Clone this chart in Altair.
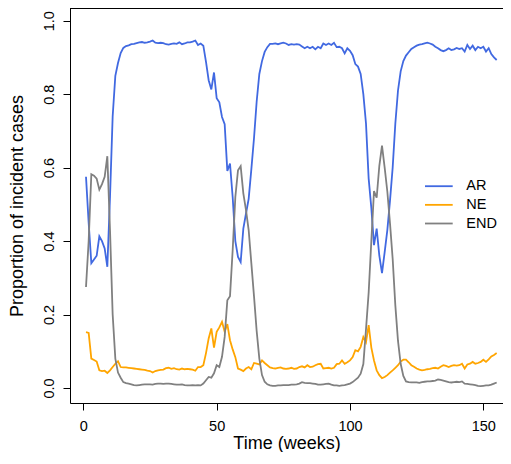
import altair as alt
import pandas as pd

weeks = list(range(1, 156))
series_names = ["AR", "NE", "END"]
series_colors = ["#4169E1", "#FFA500", "#808080"]

ar = [
    0.575, 0.45, 0.34, 0.35, 0.36, 0.413, 0.40, 0.38, 0.33, 0.52,
    0.74, 0.85, 0.885, 0.912, 0.926, 0.931, 0.933, 0.936, 0.937, 0.939,
    0.941, 0.942, 0.940, 0.941, 0.943, 0.946, 0.940, 0.939, 0.940, 0.939,
    0.936, 0.935, 0.937, 0.938, 0.937, 0.941, 0.936, 0.938, 0.941, 0.941,
    0.943, 0.946, 0.934, 0.938, 0.932, 0.888, 0.838, 0.813, 0.859, 0.789,
    0.778, 0.738, 0.718, 0.591, 0.611, 0.52, 0.40, 0.357, 0.343, 0.434,
    0.475, 0.515, 0.595, 0.68, 0.78, 0.855, 0.89, 0.915, 0.928, 0.937,
    0.937, 0.938, 0.936, 0.938, 0.940, 0.938, 0.934, 0.936, 0.935, 0.936,
    0.935, 0.930, 0.925, 0.929, 0.925, 0.929, 0.922, 0.929, 0.925, 0.938,
    0.934, 0.938, 0.934, 0.940, 0.928, 0.929, 0.925, 0.911, 0.925, 0.918,
    0.906, 0.882, 0.875, 0.855, 0.80, 0.72, 0.57, 0.49, 0.389, 0.434,
    0.36, 0.313, 0.37, 0.43, 0.51, 0.60, 0.72, 0.81, 0.862, 0.89,
    0.905, 0.914, 0.923, 0.928, 0.932, 0.935, 0.936, 0.938, 0.940, 0.938,
    0.935, 0.929, 0.925, 0.920, 0.917, 0.920, 0.925, 0.920, 0.922, 0.926,
    0.923, 0.925, 0.916, 0.934, 0.923, 0.932, 0.920, 0.929, 0.925, 0.929,
    0.916, 0.925, 0.909, 0.900, 0.893,
]

ne = [
    0.152, 0.150, 0.080, 0.076, 0.072, 0.048, 0.046, 0.047, 0.041, 0.048,
    0.057, 0.066, 0.073, 0.057, 0.056, 0.056, 0.055, 0.054, 0.053, 0.052,
    0.051, 0.050, 0.049, 0.047, 0.046, 0.042, 0.046, 0.048, 0.049, 0.050,
    0.054, 0.055, 0.052, 0.054, 0.051, 0.050, 0.053, 0.051, 0.052, 0.051,
    0.050, 0.047, 0.057, 0.057, 0.062, 0.095, 0.135, 0.162, 0.110, 0.153,
    0.165, 0.180, 0.153, 0.174, 0.130, 0.105, 0.084, 0.053, 0.050, 0.046,
    0.053, 0.057, 0.051, 0.068, 0.066, 0.064, 0.075, 0.068, 0.062, 0.056,
    0.054, 0.053, 0.055, 0.056, 0.053, 0.052, 0.053, 0.055, 0.052, 0.053,
    0.057, 0.059, 0.056, 0.062, 0.057, 0.058, 0.062, 0.065, 0.066, 0.053,
    0.054, 0.055, 0.053, 0.055, 0.065, 0.066, 0.075, 0.066, 0.070, 0.075,
    0.084, 0.103, 0.100, 0.112, 0.139, 0.125, 0.171, 0.110, 0.075, 0.048,
    0.035, 0.027, 0.030, 0.035, 0.042, 0.048, 0.055, 0.062, 0.072, 0.077,
    0.077, 0.070, 0.062, 0.058, 0.053, 0.050, 0.048, 0.049, 0.051, 0.052,
    0.054, 0.055, 0.053, 0.058, 0.062, 0.060, 0.057, 0.060, 0.062, 0.061,
    0.062, 0.066, 0.053, 0.064, 0.066, 0.071, 0.066, 0.068, 0.071, 0.077,
    0.071, 0.078, 0.086, 0.090, 0.095,
]

end = [
    0.275, 0.40, 0.582, 0.578, 0.57, 0.54, 0.555, 0.575, 0.631, 0.43,
    0.20, 0.08, 0.042, 0.028, 0.016, 0.013, 0.012, 0.010, 0.008, 0.007,
    0.008, 0.009, 0.010, 0.010, 0.010, 0.009, 0.011, 0.012, 0.012, 0.011,
    0.012, 0.012, 0.011, 0.010, 0.009, 0.009, 0.010, 0.008, 0.007, 0.007,
    0.008, 0.007, 0.008, 0.007, 0.012, 0.021, 0.030, 0.028, 0.040, 0.062,
    0.057, 0.085, 0.139, 0.239, 0.250, 0.375, 0.52, 0.593, 0.604, 0.530,
    0.484, 0.43, 0.34, 0.25, 0.155, 0.08, 0.035, 0.017, 0.010, 0.007,
    0.006, 0.006, 0.007, 0.007, 0.008, 0.008, 0.008, 0.009, 0.009, 0.010,
    0.012, 0.016, 0.014, 0.013, 0.013, 0.012, 0.011, 0.009, 0.009, 0.010,
    0.011, 0.012, 0.009, 0.007, 0.007, 0.006, 0.007, 0.008, 0.010, 0.012,
    0.016, 0.022, 0.028, 0.039, 0.065, 0.16, 0.26, 0.40, 0.536, 0.518,
    0.605, 0.66, 0.60, 0.535, 0.448, 0.352, 0.225, 0.128, 0.066, 0.033,
    0.018, 0.016, 0.015, 0.015, 0.015, 0.014, 0.016, 0.017, 0.018, 0.018,
    0.019, 0.020, 0.023, 0.022, 0.020, 0.018, 0.016, 0.015, 0.016, 0.017,
    0.016, 0.018, 0.012, 0.011, 0.010, 0.009, 0.008, 0.006, 0.005, 0.006,
    0.007, 0.007, 0.009, 0.012, 0.015,
]

x_ticks = [0, 50, 100, 150]
y_ticks = [0.0, 0.2, 0.4, 0.6, 0.8, 1.0]
x_title = "Time (weeks)"
y_title = "Proportion of incident cases"

FONT = "Liberation Sans"
W, H = 433, 395

rows = []
for name, vals in zip(series_names, [ar, ne, end]):
    for w, v in zip(weeks, vals):
        rows.append({"week": w, "value": v, "series": name})
df = pd.DataFrame(rows)

color_scale = alt.Scale(domain=series_names, range=series_colors)

lines = alt.Chart(df).mark_line(strokeWidth=1.8, clip=True).encode(
    x=alt.X(
        "week:Q",
        scale=alt.Scale(domain=[-5.0, 157.375], nice=False, zero=False),
        axis=alt.Axis(
            values=x_ticks, title=x_title, format="d", grid=False,
            tickSize=7, labelPadding=20, labelBaseline="alphabetic",
            labelFontSize=14.5, titleFontSize=18, titleY=45,
            titleBaseline="alphabetic", titleFontWeight="normal",
        ),
    ),
    y=alt.Y(
        "value:Q",
        scale=alt.Scale(domain=[-0.0409, 1.0346], nice=False, zero=False),
        axis=alt.Axis(
            values=y_ticks, title=y_title, format=".1f", grid=False,
            tickSize=7, labelPadding=9.7, labelAngle=270, labelAlign="center",
            labelBaseline="alphabetic", labelFontSize=14.5,
            titleFontSize=18, titleX=-48, titleBaseline="alphabetic",
            titleFontWeight="normal",
        ),
    ),
    color=alt.Color("series:N", scale=color_scale, legend=None),
)

top_border = alt.Chart(pd.DataFrame({"k": [0]})).mark_rule(
    color="black", strokeWidth=1
).encode(x=alt.value(0), x2=alt.value(W), y=alt.value(0.5))

legend_df = pd.DataFrame({"series": series_names})
layers = [lines, top_border]
for i, name in enumerate(series_names):
    sub = legend_df[legend_df["series"] == name]
    yy = 178.2 + 18.65 * i
    layers.append(
        alt.Chart(sub).mark_rule(strokeWidth=1.8).encode(
            x=alt.value(355), x2=alt.value(382.7), y=alt.value(yy),
            color=alt.Color("series:N", scale=color_scale, legend=None),
        )
    )
    layers.append(
        alt.Chart(sub).mark_text(
            align="left", baseline="middle", fontSize=14.5, font=FONT, color="black"
        ).encode(x=alt.value(396.3), y=alt.value(yy), text="series:N")
    )

chart = alt.layer(*layers).properties(
    width=W, height=H,
    autosize=alt.AutoSizeParams(type="none"),
    padding={"left": 62, "top": 0, "right": 0, "bottom": 49},
).configure_view(stroke=None).configure_axis(
    labelFont=FONT, titleFont=FONT, labelColor="black", titleColor="black",
    domainColor="black", tickColor="black", domainWidth=1, tickWidth=1,
)

chart.save("out.html", embed_options={"renderer": "svg", "actions": False})
